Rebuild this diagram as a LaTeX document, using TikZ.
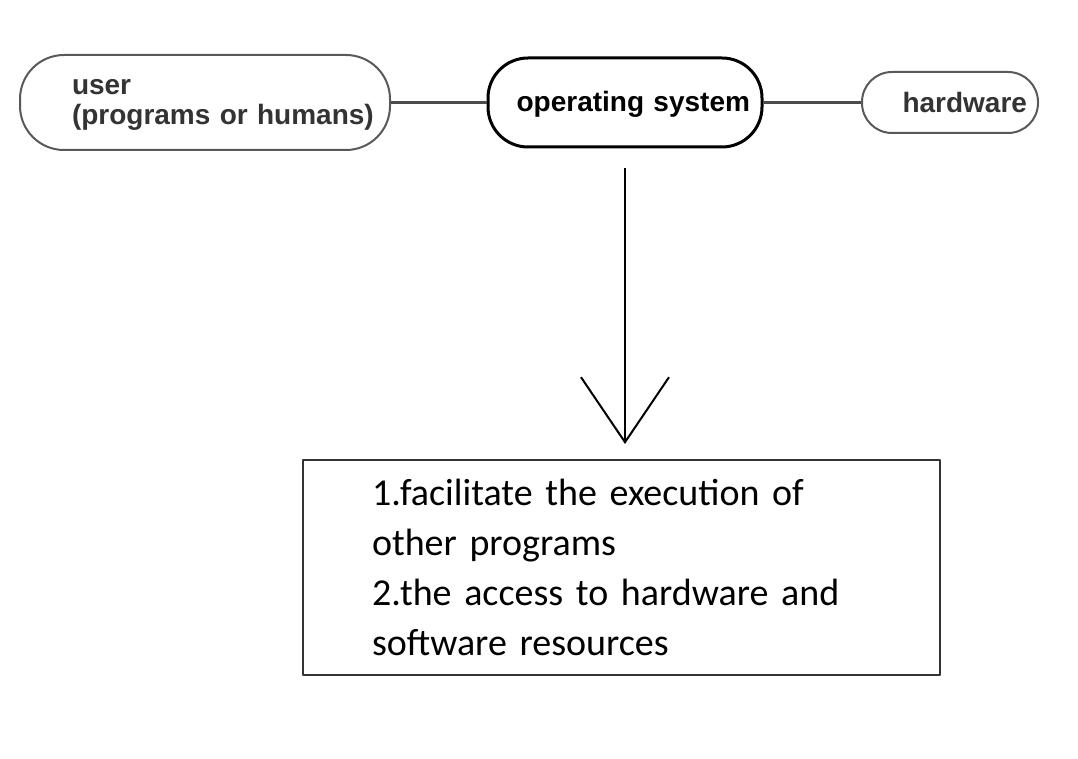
\documentclass[tikz,border=0pt]{standalone}
\usepackage{fontspec}
\setmainfont{Liberation Sans}
\newfontfamily\handfont{Carlito}
\usetikzlibrary{arrows.meta}
\begin{document}
\begin{tikzpicture}[x=.5pt,y=-.5pt,line join=round,
    pill/.style={draw=black!65,line width=1pt,rounded corners=#1},
    nodetext/.style={font=\fontsize{14}{15}\selectfont\bfseries,text=black!80},
    link/.style={draw=black!70,line width=1.3pt}]
  \useasboundingbox (0,0) rectangle (1078,759);
  \node[pill=22pt,nodetext,minimum height=47.5pt,text width=133pt,
        inner xsep=26pt,align=left,text height=10.4pt,text depth=17.9pt]
        (user) at (205,102.5) {user\\\mbox{(programs or humans)}};
  \node[pill=20pt,nodetext,draw=black,text=black,line width=1.5pt,
        minimum height=44.5pt,text width=125pt,inner xsep=6pt,align=right,
        text height=10pt,text depth=.8pt] (os) at (625,102.5)
        {operating system};
  \node[pill=15pt,nodetext,minimum height=30.5pt,text width=77pt,
        inner xsep=5.5pt,align=right] (hw) at (950,102.5) {hardware};
  \draw[link] (user) -- (os);
  \draw[link] (os) -- (hw);
  \node[draw=black!80,line width=1pt,text width=249.5pt,inner xsep=34.5pt,
        minimum height=107.5pt,align=left,
        font=\handfont\fontsize{19}{25}\selectfont] (task) at (621.5,567.5)
        {1.facilitate the execution of\\other programs\\
         2.the access to hardware and\\software resources};
  \draw[line width=1pt,shorten <=10pt,shorten >=7.5pt,
        -{Straight Barb[length=32.5pt,width=44pt]}]
        (os.south) -- (os.south |- task.north);
\end{tikzpicture}
\end{document}
